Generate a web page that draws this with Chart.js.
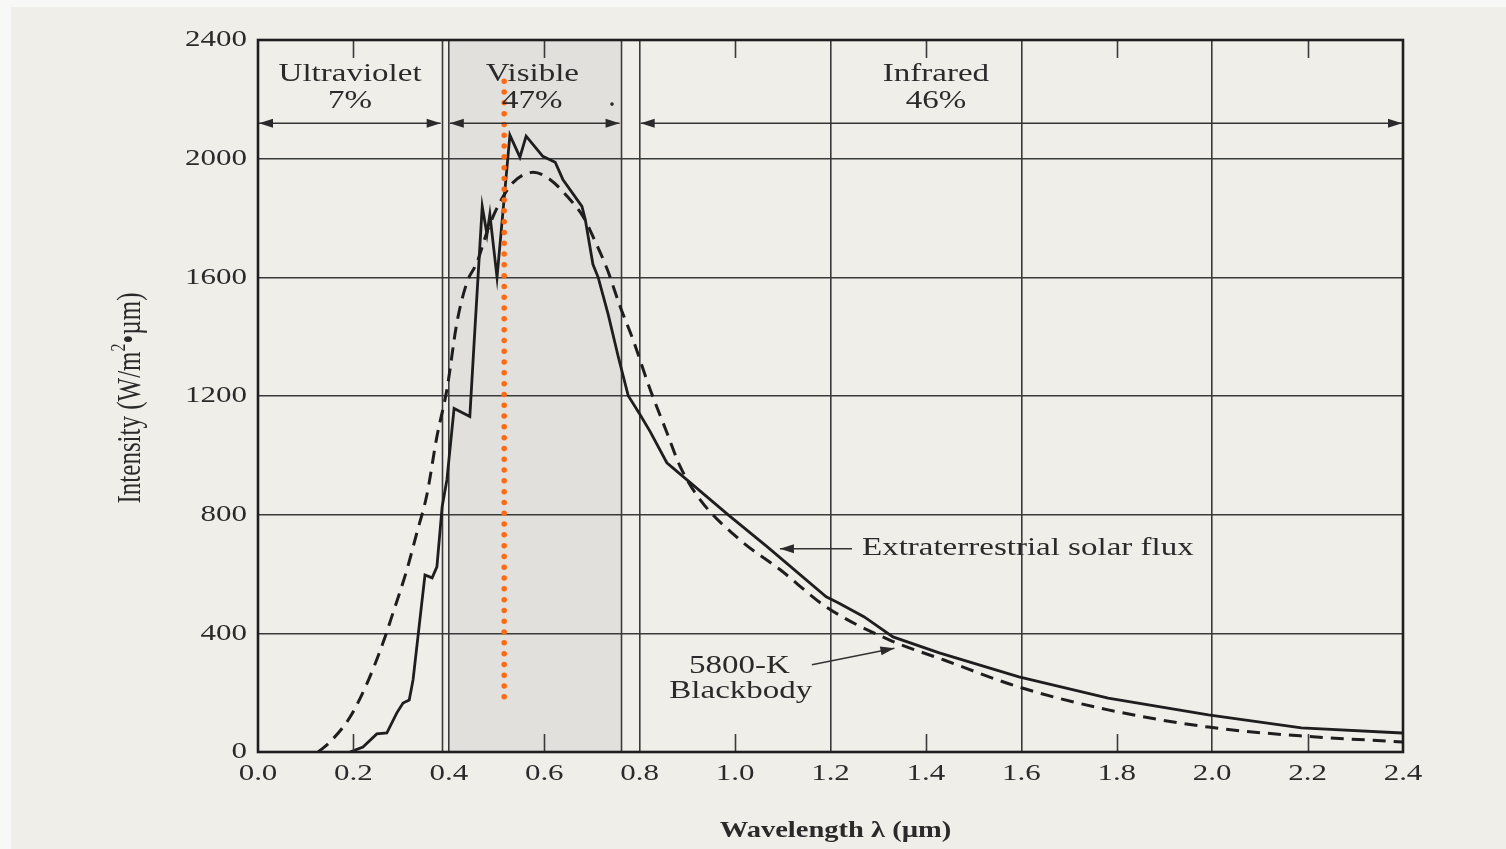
<!DOCTYPE html>
<html>
<head>
<meta charset="utf-8">
<script src="https://cdn.jsdelivr.net/npm/chart.js@4.4.1/dist/chart.umd.min.js"></script>
<style>
  html, body { margin: 0; padding: 0; }
  body { width: 1506px; height: 849px; overflow: hidden; background: #efeee9; position: relative; }
  .strip-top { position: absolute; left: 0; top: 0; width: 1506px; height: 7px; background: #f8f8f6; }
  .strip-left { position: absolute; left: 0; top: 0; width: 11px; height: 849px; background: #f8f8f6; }
  canvas { position: absolute; left: 0; top: 0; }
</style>
</head>
<body>
<div class="strip-top"></div>
<div class="strip-left"></div>
<canvas id="spectrum" width="1506" height="849"></canvas>
<script>
/* ---- values: wavelength (µm) and intensity (W/m²·µm) ---- */
const SOLAR_WL = [0.193, 0.220, 0.249, 0.270, 0.291, 0.304, 0.317, 0.325, 0.350, 0.365, 0.375, 0.386,
  0.396, 0.411, 0.444, 0.453, 0.470, 0.480, 0.486, 0.501, 0.528, 0.549, 0.562, 0.597, 0.623, 0.639,
  0.679, 0.686, 0.702, 0.713, 0.734, 0.755, 0.776, 0.801, 0.822, 0.857, 0.906, 0.985, 1.067,
  1.191, 1.216, 1.270, 1.331, 1.428, 1.595, 1.782, 1.992, 2.187, 2.398];
const SOLAR_I = [0, 17, 61, 64, 132, 165, 175, 243, 597, 587, 624, 827,
  918, 1158, 1131, 1380, 1839, 1745, 1812, 1600, 2079, 2005, 2076, 2008, 1988, 1930,
  1839, 1795, 1644, 1600, 1475, 1333, 1201, 1137, 1080, 975, 908, 800, 692,
  523, 503, 456, 388, 334, 253, 182, 125, 81, 64];

const BB_WL = [0.126, 0.151, 0.193, 0.229, 0.262, 0.283, 0.312, 0.333, 0.354, 0.375, 0.396, 0.417,
  0.438, 0.459, 0.482, 0.507, 0.535, 0.577, 0.612, 0.648, 0.681, 0.702, 0.732, 0.759, 0.786, 0.822,
  0.857, 0.885, 0.927, 1.010, 1.094, 1.191, 1.323, 1.438, 1.595, 1.782, 1.992, 2.187, 2.398];
const BB_I = [0, 34, 118, 233, 368, 469, 614, 739, 867, 1063, 1222, 1448,
  1583, 1650, 1762, 1853, 1920, 1954, 1930, 1873, 1806, 1738, 1627, 1502, 1390, 1222,
  1077, 962, 850, 715, 615, 489, 378, 310, 219, 142, 84, 54, 34];

/* spectral bands */
const BAND_NAMES = ['Ultraviolet', 'Visible', 'Infrared'];
const BAND_SHARES = ['7%', '47%', '46%'];
const BAND_LABEL_WL = [0.193, 0.575, 1.421];
const BAND_SPANS = [[0, 0.385], [0.4, 0.76], [0.8, 2.4]];
const VISIBLE_SHADE = [0.4, 0.76];

/* orange marker line at the peak */
const MARKER_WL = [0.516, 0.516];
const MARKER_I = [2261, 172];

const X_MIN = 0, X_MAX = 2.4, X_STEP = 0.2;
const Y_MIN = 0, Y_MAX = 2400, Y_STEP = 400;

const INK = '#1e1e1e';
const SERIF = "'Liberation Serif', 'Times New Roman', serif";
const SX = 1.32;   // the scanned figure is stretched sideways

const toPoints = (xs, ys) => xs.map((x, i) => ({ x, y: ys[i] }));
const isMajorX = (v) => Math.abs(v / 0.4 - Math.round(v / 0.4)) < 1e-6;

/* ---- text helper: draw text stretched horizontally ---- */
function sText(ctx, txt, x, y, font, align = 'center', sx = SX, color = '#2a2a2a') {
  ctx.save();
  ctx.font = font;
  ctx.fillStyle = color;
  ctx.translate(x, y);
  ctx.scale(sx, 1);
  ctx.textAlign = align;
  ctx.textBaseline = 'middle';
  ctx.fillText(txt, 0, 0);
  ctx.restore();
}

function arrowHead(ctx, tipX, tipY, fromX, fromY, len = 14, half = 4.5) {
  const a = Math.atan2(tipY - fromY, tipX - fromX);
  ctx.beginPath();
  ctx.moveTo(tipX, tipY);
  ctx.lineTo(tipX - len * Math.cos(a) + half * Math.sin(a), tipY - len * Math.sin(a) - half * Math.cos(a));
  ctx.lineTo(tipX - len * Math.cos(a) - half * Math.sin(a), tipY - len * Math.sin(a) + half * Math.cos(a));
  ctx.closePath();
  ctx.fill();
}

function arrow(ctx, x1, y1, x2, y2, headStart, headEnd) {
  ctx.beginPath();
  ctx.moveTo(x1, y1);
  ctx.lineTo(x2, y2);
  ctx.stroke();
  if (headStart) arrowHead(ctx, x1, y1, x2, y2);
  if (headEnd) arrowHead(ctx, x2, y2, x1, y1);
}

/* ---- figure decorations (band shading, labels, axis text, frame) ---- */
const figurePlugin = {
  id: 'figure',
  beforeDraw(chart) {
    const { ctx, chartArea: a, scales: { x } } = chart;
    ctx.save();
    ctx.fillStyle = '#e1e0dc';
    const l = x.getPixelForValue(VISIBLE_SHADE[0]);
    const r = x.getPixelForValue(VISIBLE_SHADE[1]);
    ctx.fillRect(l, a.top, r - l, a.bottom - a.top);
    ctx.restore();
  },
  beforeDatasetsDraw(chart) {
    const { ctx, chartArea: a, scales: { x } } = chart;
    ctx.save();
    ctx.strokeStyle = '#3a3a3a';
    ctx.lineWidth = 1.6;
    [BAND_SPANS[0][1], BAND_SPANS[1][1]].forEach((v) => {
      const px = Math.round(x.getPixelForValue(v)) + 0.5;
      ctx.beginPath();
      ctx.moveTo(px, a.top);
      ctx.lineTo(px, a.bottom);
      ctx.stroke();
    });
    ctx.restore();
  },
  afterDraw(chart) {
    const { ctx, chartArea: a, scales: { x, y } } = chart;
    ctx.save();

    /* inner minor ticks top and bottom */
    ctx.strokeStyle = '#3a3a3a';
    ctx.lineWidth = 1.6;
    x.ticks.forEach((t) => {
      if (isMajorX(t.value)) return;
      const px = Math.round(x.getPixelForValue(t.value)) + 0.5;
      ctx.beginPath();
      ctx.moveTo(px, a.bottom); ctx.lineTo(px, a.bottom - 18);
      ctx.moveTo(px, a.top); ctx.lineTo(px, a.top + 18);
      ctx.stroke();
    });

    /* frame */
    ctx.strokeStyle = INK;
    ctx.lineWidth = 2.6;
    ctx.strokeRect(a.left, a.top, a.right - a.left, a.bottom - a.top);

    /* tick labels */
    const tickFont = `24px ${SERIF}`;
    x.ticks.forEach((t) => {
      sText(ctx, t.value.toFixed(1), x.getPixelForValue(t.value), a.bottom + 22, tickFont, 'center', 1.29);
    });
    y.ticks.forEach((t) => {
      sText(ctx, String(Math.round(t.value)), a.left - 11, y.getPixelForValue(t.value), tickFont, 'right', 1.29);
    });

    /* band arrows and labels */
    const arrowY = y.getPixelForValue(2119);
    ctx.strokeStyle = '#333';
    ctx.fillStyle = '#2a2a2a';
    ctx.lineWidth = 1.5;
    BAND_SPANS.forEach(([s, e]) => {
      arrow(ctx, x.getPixelForValue(s) + 1, arrowY, x.getPixelForValue(e) - 1, arrowY, true, true);
    });
    const labelFont = `25px ${SERIF}`;
    BAND_NAMES.forEach((name, i) => {
      const px = x.getPixelForValue(BAND_LABEL_WL[i]);
      sText(ctx, name, px, y.getPixelForValue(2285), labelFont);
      sText(ctx, BAND_SHARES[i], px, y.getPixelForValue(2194), labelFont);
    });
    ctx.beginPath();
    ctx.arc(x.getPixelForValue(0.742), y.getPixelForValue(2184), 1.8, 0, Math.PI * 2);
    ctx.fill();

    /* curve callouts */
    ctx.lineWidth = 1.6;
    arrow(ctx, x.getPixelForValue(1.094), y.getPixelForValue(685), x.getPixelForValue(1.245), y.getPixelForValue(685), true, false);
    sText(ctx, 'Extraterrestrial solar flux', x.getPixelForValue(1.266), y.getPixelForValue(685), labelFont, 'left');
    arrow(ctx, x.getPixelForValue(1.161), y.getPixelForValue(294), x.getPixelForValue(1.334), y.getPixelForValue(350), false, true);
    sText(ctx, '5800-K', x.getPixelForValue(1.009), y.getPixelForValue(288), labelFont);
    sText(ctx, 'Blackbody', x.getPixelForValue(1.012), y.getPixelForValue(204), labelFont);

    /* axis titles */
    sText(ctx, 'Wavelength \u03bb (\u00b5m)', (a.left + a.right) / 2 + 5, 831, `bold 23px ${SERIF}`, 'center', 1.24);

    ctx.translate(140, (a.top + a.bottom) / 2 + 2);
    ctx.scale(SX, 1);
    ctx.rotate(-Math.PI / 2);
    ctx.fillStyle = '#2a2a2a';
    ctx.textBaseline = 'alphabetic';
    const big = `25px ${SERIF}`, small = `16px ${SERIF}`;
    const parts = [['Intensity (W/m', big, 0], ['2', small, -11], ['\u2022\u00b5m)', big, 0]];
    let w = 0;
    parts.forEach(([t, f]) => { ctx.font = f; w += ctx.measureText(t).width; });
    let cx = -w / 2;
    parts.forEach(([t, f, dy]) => {
      ctx.font = f;
      ctx.fillText(t, cx, dy);
      cx += ctx.measureText(t).width;
    });
    ctx.restore();
  },
};

new Chart(document.getElementById('spectrum'), {
  type: 'scatter',
  data: {
    datasets: [
      {
        label: 'peak marker',
        data: toPoints(MARKER_WL, MARKER_I),
        showLine: true,
        borderColor: '#ff6a10',
        borderWidth: 5.5,
        borderDash: [0, 10.8],
        borderCapStyle: 'round',
        pointRadius: 0,
        order: 0,
      },
      {
        label: 'Extraterrestrial solar flux',
        data: toPoints(SOLAR_WL, SOLAR_I),
        showLine: true,
        borderColor: INK,
        borderWidth: 2.8,
        borderJoinStyle: 'miter',
        pointRadius: 0,
        tension: 0,
        order: 1,
      },
      {
        label: '5800-K Blackbody',
        data: toPoints(BB_WL, BB_I),
        showLine: true,
        borderColor: INK,
        borderWidth: 3,
        borderDash: [13, 8],
        pointRadius: 0,
        cubicInterpolationMode: 'monotone',
        order: 1,
      },
    ],
  },
  options: {
    responsive: false,
    animation: false,
    events: [],
    layout: { padding: { top: 40, right: 103, left: 0, bottom: 0 } },
    plugins: { legend: { display: false }, tooltip: { enabled: false } },
    scales: {
      x: {
        type: 'linear', min: X_MIN, max: X_MAX,
        ticks: { stepSize: X_STEP, display: false },
        border: { display: false },
        grid: {
          drawTicks: false,
          lineWidth: 1.6,
          color: (c) => (c.tick && isMajorX(c.tick.value) && c.tick.value > 0.01 && c.tick.value < 2.39 ? '#3a3a3a' : 'rgba(0,0,0,0)'),
        },
        afterFit: (s) => { s.height = 97; },
      },
      y: {
        type: 'linear', min: Y_MIN, max: Y_MAX,
        ticks: { stepSize: Y_STEP, display: false },
        border: { display: false },
        grid: {
          drawTicks: false,
          lineWidth: 1.6,
          color: (c) => (c.tick && c.tick.value > 0 && c.tick.value < Y_MAX ? '#3a3a3a' : 'rgba(0,0,0,0)'),
        },
        afterFit: (s) => { s.width = 258; },
      },
    },
  },
  plugins: [figurePlugin],
});
</script>
</body>
</html>
